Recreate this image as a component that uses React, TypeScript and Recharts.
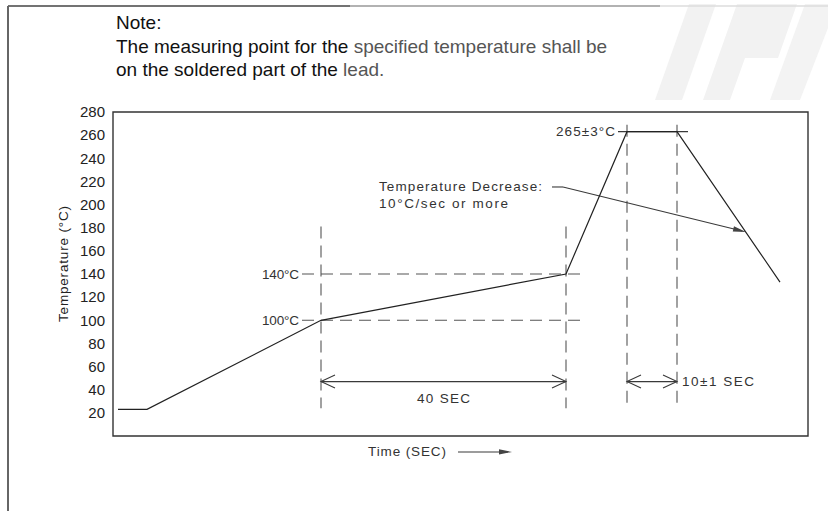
import React from "react";
import {
  ComposedChart,
  Line,
  XAxis,
  YAxis,
  ReferenceLine,
  ReferenceDot,
  ReferenceArea,
  Label
} from "recharts";

// reflow profile (time axis is schematic, not to scale)
const timeSec = [1, 6.8, 41.6, 90.6, 102.8, 112.8, 133.4];
const tempC = [23, 23, 100, 140, 263, 263, 133];
const yTicks = [20, 40, 60, 80, 100, 120, 140, 160, 180, 200, 220, 240, 260, 280];

// dashed guide lines (data units)
const dashedGuides = [
  { x1: 41.6, y1: 181, x2: 41.6, y2: 24 },
  { x1: 90.6, y1: 181, x2: 90.6, y2: 24 },
  { x1: 102.8, y1: 269, x2: 102.8, y2: 24 },
  { x1: 112.8, y1: 269, x2: 112.8, y2: 24 },
  { x1: 37.8, y1: 140, x2: 93.8, y2: 140 },
  { x1: 37.8, y1: 100, x2: 93.8, y2: 100 }
];

const solidGuides = [
  { x1: 101, y1: 263, x2: 115, y2: 263 },
  { x1: 87.8, y1: 215.2, x2: 90, y2: 215.2 }
];

// double-headed span arrows
const spanArrows = [
  { x1: 41.6, y1: 47, x2: 90.6, y2: 47 },
  { x1: 102.8, y1: 47, x2: 112.8, y2: 47 }
];

// pointer arrows
const pointerArrows = [
  { x1: 90, y1: 215.2, x2: 126.6, y2: 176.3 },
  { x1: 69, y1: -13.8, x2: 79.8, y2: -13.8 }
];

const labels = [
  { text: "140°C", x: 37.2, y: 140, anchor: "end", w: 37 },
  { text: "100°C", x: 37.2, y: 100, anchor: "end", w: 37 },
  { text: "265±3°C", x: 100.4, y: 263, anchor: "end", w: 59 },
  { text: "Temperature Decrease:", x: 53.2, y: 215.2, anchor: "start", w: 163 },
  { text: "10°C/sec or more", x: 53.2, y: 200.5, anchor: "start", w: 129 },
  { text: "40 SEC", x: 66.1, y: 32.8, anchor: "middle", w: 53 },
  { text: "10±1 SEC", x: 113.8, y: 47, anchor: "start", w: 72 },
  { text: "Time (SEC)", x: 58.8, y: -13.8, anchor: "middle", w: 78 }
];

const data = timeSec.map((t, i) => ({ t, temp: tempC[i] }));

const ink = "#3a3a3a";

const openArrow = (p: any) => {
  const { x1, y1, x2, y2 } = p;
  const len = Math.hypot(x2 - x1, y2 - y1) || 1;
  const ux = (x2 - x1) / len;
  const uy = (y2 - y1) / len;
  const nx = -uy;
  const ny = ux;
  const L = 14;
  const W = 6.5;
  return (
    <g stroke={ink} strokeWidth={1.1} fill="none">
      <line x1={x1} y1={y1} x2={x2} y2={y2} />
      <polyline
        points={`${x1 + ux * L + nx * W},${y1 + uy * L + ny * W} ${x1},${y1} ${x1 + ux * L - nx * W},${y1 + uy * L - ny * W}`}
      />
      <polyline
        points={`${x2 - ux * L + nx * W},${y2 - uy * L + ny * W} ${x2},${y2} ${x2 - ux * L - nx * W},${y2 - uy * L - ny * W}`}
      />
    </g>
  );
};

const filledArrow = (p: any) => {
  const { x1, y1, x2, y2 } = p;
  const len = Math.hypot(x2 - x1, y2 - y1) || 1;
  const ux = (x2 - x1) / len;
  const uy = (y2 - y1) / len;
  const nx = -uy;
  const ny = ux;
  const L = 13;
  const W = 2.6;
  return (
    <g>
      <line x1={x1} y1={y1} x2={x2 - ux * 4} y2={y2 - uy * 4} stroke={ink} strokeWidth={1.1} />
      <polygon
        points={`${x2},${y2} ${x2 - ux * L + nx * W},${y2 - uy * L + ny * W} ${x2 - ux * L - nx * W},${y2 - uy * L - ny * W}`}
        fill="#444"
      />
    </g>
  );
};

const textShape = (lab: any) => (p: any) => (
  <text
    x={p.cx}
    y={p.cy}
    textAnchor={lab.anchor}
    dominantBaseline="central"
    fontSize={13.5}
    fill="#333"
    textLength={lab.w}
    lengthAdjust="spacing"
  >
    {lab.text}
  </text>
);

const YTitle = () => (
  <text
    x={63}
    y={264}
    transform="rotate(-90 63 264)"
    textAnchor="middle"
    dominantBaseline="central"
    fontSize={13.5}
    fill="#222"
    textLength={116}
    lengthAdjust="spacing"
  >
    Temperature (°C)
  </text>
);

// frame, watermark and header note
const Backdrop = () => (
  <svg width={828} height={511} style={{ position: "absolute", left: 0, top: 0 }}>
    <polygon points="655,100 682,100 716,4 689,4" fill="#f2f2f2" />
    <polygon points="703,100 730,100 745,58 778,58 797,4 737,4" fill="#f2f2f2" />
    <polygon points="770,100 800,100 828,28 828,4 805,4" fill="#f3f3f3" />
    <line x1={8} y1={6} x2={350} y2={6} stroke="#444" strokeWidth={1.5} />
    <line x1={350} y1={6} x2={660} y2={6} stroke="#999" strokeWidth={1.5} />
    <line x1={660} y1={6} x2={828} y2={6} stroke="#ddd" strokeWidth={1.5} />
    <line x1={8} y1={6} x2={8} y2={511} stroke="#666" strokeWidth={2} />
    <g fontFamily="'Liberation Sans', Arial, sans-serif" fontSize={19}>
      <text x={116} y={29} fill="#111">
        Note:
      </text>
      <text x={116} y={53}>
        <tspan fill="#111">The measuring point for the </tspan>
        <tspan fill="#555">specified temperature shall be</tspan>
      </text>
      <text x={116} y={76}>
        <tspan fill="#111">on the soldered part of the </tspan>
        <tspan fill="#555">lead.</tspan>
      </text>
    </g>
  </svg>
);

const App: React.FC = () => {
  return (
    <div
      style={{
        position: "absolute",
        left: 0,
        top: 0,
        width: 828,
        height: 511,
        background: "#fff",
        fontFamily: "'Liberation Sans', Arial, sans-serif"
      }}
    >
      <Backdrop />
      <div style={{ position: "absolute", left: 0, top: 0 }}>
        <ComposedChart
          width={828}
          height={511}
          data={data}
          margin={{ top: 112, right: 20, bottom: 75, left: 53 }}
        >
          <XAxis dataKey="t" type="number" domain={[0, 139]} hide />
          <YAxis
            type="number"
            domain={[0, 280]}
            ticks={yTicks}
            interval={0}
            width={60}
            axisLine={false}
            tickLine={false}
            tick={{ fontSize: 15, fill: "#222" }}
            label={<Label value="Temperature (°C)" content={YTitle} />}
          />
          <ReferenceArea
            x1={0}
            x2={139}
            y1={0}
            y2={280}
            fill="none"
            fillOpacity={0}
            stroke="#333"
            strokeWidth={1.4}
          />
          {dashedGuides.map((g, i) => (
            <ReferenceLine
              key={`d${i}`}
              segment={[{ x: g.x1, y: g.y1 }, { x: g.x2, y: g.y2 }]}
              stroke="#555"
              strokeWidth={1.1}
              strokeDasharray="12 7"
              ifOverflow="visible"
            />
          ))}
          {solidGuides.map((g, i) => (
            <ReferenceLine
              key={`s${i}`}
              segment={[{ x: g.x1, y: g.y1 }, { x: g.x2, y: g.y2 }]}
              stroke={ink}
              strokeWidth={1.1}
              ifOverflow="visible"
            />
          ))}
          {spanArrows.map((g, i) => (
            <ReferenceLine
              key={`a${i}`}
              segment={[{ x: g.x1, y: g.y1 }, { x: g.x2, y: g.y2 }]}
              shape={openArrow}
              ifOverflow="visible"
            />
          ))}
          {pointerArrows.map((g, i) => (
            <ReferenceLine
              key={`p${i}`}
              segment={[{ x: g.x1, y: g.y1 }, { x: g.x2, y: g.y2 }]}
              shape={filledArrow}
              ifOverflow="visible"
            />
          ))}
          {labels.map((lab, i) => (
            <ReferenceDot
              key={`l${i}`}
              x={lab.x}
              y={lab.y}
              r={0}
              ifOverflow="visible"
              shape={textShape(lab)}
            />
          ))}
          <Line
            type="linear"
            dataKey="temp"
            stroke="#222"
            strokeWidth={1.2}
            dot={false}
            isAnimationActive={false}
          />
        </ComposedChart>
      </div>
    </div>
  );
};

export default App;
